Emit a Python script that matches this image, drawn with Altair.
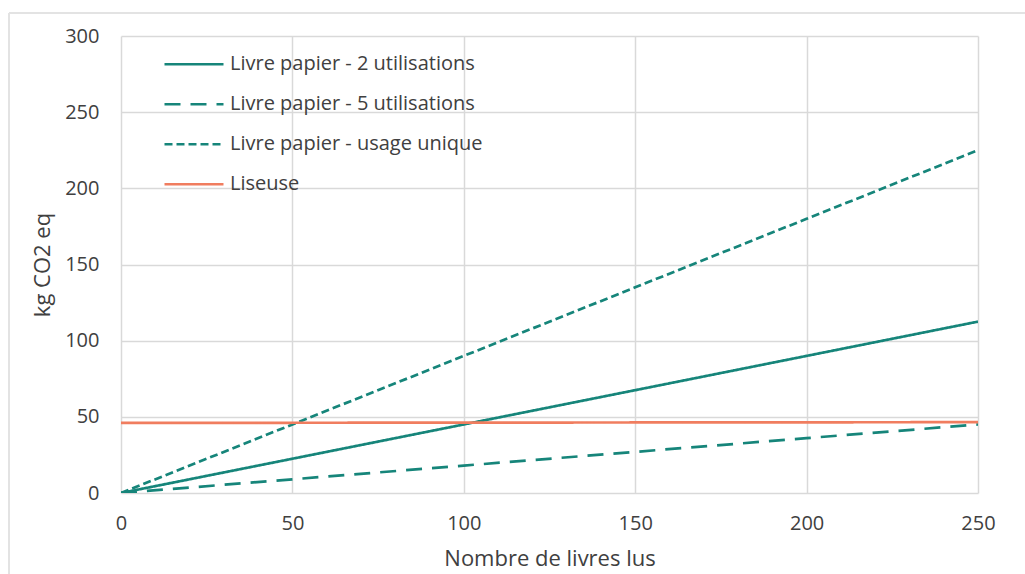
import altair as alt
import pandas as pd

# Number of books read (x) and cumulative footprint of each reading mode (kg CO2 eq)
livres = [0, 50, 100, 150, 200, 250]
papier_2 = [0, 22.5, 45, 67.5, 90, 112.5]
papier_5 = [0, 9, 18, 27, 36, 45]
papier_unique = [0, 45, 90, 135, 180, 225]
liseuse = [46.0, 46.1, 46.2, 46.3, 46.4, 46.5]

series_names = [
    "Livre papier - 2 utilisations",
    "Livre papier - 5 utilisations",
    "Livre papier - usage unique",
    "Liseuse",
]
series_values = [papier_2, papier_5, papier_unique, liseuse]
series_colors = ["#16857a", "#16857a", "#16857a", "#f07d5f"]
series_dashes = [[1, 0], [16, 10], [8, 4], [1, 0]]

rows = []
for name, vals in zip(series_names, series_values):
    for x, y in zip(livres, vals):
        rows.append({"livres": x, "kg": y, "serie": name})
df = pd.DataFrame(rows)

FONT = "Open Sans"
TEXT = "#404040"

lines = alt.Chart(df).mark_line(strokeWidth=2.7, clip=True).encode(
    x=alt.X(
        "livres:Q",
        title="Nombre de livres lus",
        scale=alt.Scale(domain=[0, 250], nice=False, zero=True),
        axis=alt.Axis(values=[0, 50, 100, 150, 200, 250], titlePadding=15),
    ),
    y=alt.Y(
        "kg:Q",
        title="kg CO2 eq",
        scale=alt.Scale(domain=[0, 300], nice=False),
        axis=alt.Axis(values=[0, 50, 100, 150, 200, 250, 300], titlePadding=10),
    ),
    color=alt.Color(
        "serie:N",
        scale=alt.Scale(domain=series_names, range=series_colors),
        legend=alt.Legend(
            title=None,
            orient="none",
            legendX=42,
            legendY=8.5,
            symbolType="stroke",
            symbolSize=3481,
            symbolStrokeWidth=2.7,
            labelFontSize=20,
            labelFont=FONT,
            labelColor=TEXT,
            labelOffset=5,
            labelLimit=0,
            clipHeight=39.5,
            rowPadding=0,
            padding=0,
        ),
    ),
    strokeDash=alt.StrokeDash(
        "serie:N",
        scale=alt.Scale(domain=series_names, range=series_dashes),
        legend=None,
    ),
    detail="serie:N",
)

# Light frame around the whole figure (top and left edges visible)
frame_top = alt.Chart().mark_rule(color="#e3e3e3", strokeWidth=2).encode(
    x=alt.value(-112), x2=alt.value(950), y=alt.value(-23)
)
frame_left = alt.Chart().mark_rule(color="#e3e3e3", strokeWidth=2).encode(
    x=alt.value(-112), y=alt.value(-23), y2=alt.value(600)
)

chart = (
    alt.layer(frame_top, frame_left, lines)
    .properties(
        width=857,
        height=457,
        autosize=alt.AutoSizeParams(type="none"),
        padding={"left": 121, "top": 36, "right": 47, "bottom": 81},
        background="white",
    )
    .configure_view(stroke=None)
    .configure_axis(
        grid=True,
        gridColor="#d9d9d9",
        gridWidth=1.5,
        domain=False,
        ticks=False,
        labelFlush=False,
        labelFont=FONT,
        labelFontSize=20,
        labelColor=TEXT,
        titleFont=FONT,
        titleFontSize=22,
        titleFontWeight="normal",
        titleColor=TEXT,
    )
    .configure_axisX(labelPadding=20)
    .configure_axisY(labelPadding=22)
)

chart.save("out.html", embed_options={"renderer": "svg", "actions": False})
